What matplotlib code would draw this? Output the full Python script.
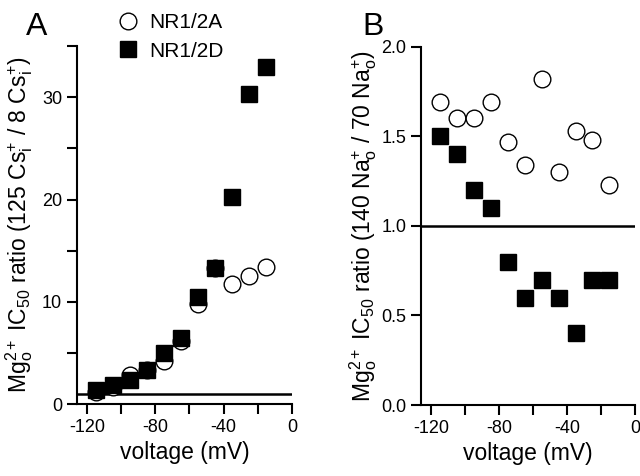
import matplotlib
matplotlib.use("Agg")
from matplotlib import pyplot as plt
from matplotlib.ticker import MultipleLocator, FormatStrFormatter

volt = [-115, -105, -95, -85, -75, -65, -55, -45, -35, -25, -15]

# panel A: Cs internal ratio
a_2a = [1.2, 1.7, 2.8, 3.3, 4.2, 6.2, 9.8, 13.3, 11.7, 12.5, 13.4]
a_2d = [1.4, 1.9, 2.4, 3.3, 5.0, 6.5, 10.5, 13.3, 20.3, 30.3, 33.0]

# panel B: Na external ratio
b_2a = [1.69, 1.60, 1.60, 1.69, 1.47, 1.34, 1.82, 1.30, 1.53, 1.48, 1.23]
b_2d = [1.5, 1.4, 1.2, 1.1, 0.8, 0.6, 0.7, 0.6, 0.4, 0.7, 0.7]

plt.rcParams["font.family"] = ["Liberation Sans", "DejaVu Sans"]
plt.rcParams["mathtext.fontset"] = "custom"
plt.rcParams["mathtext.rm"] = "Liberation Sans"
plt.rcParams["mathtext.it"] = "Liberation Sans:italic"
plt.rcParams["axes.unicode_minus"] = False


def style_axes(ax):
    for s in ["top", "right"]:
        ax.spines[s].set_visible(False)
    for s in ["left", "bottom"]:
        ax.spines[s].set_linewidth(1.5)
    ax.tick_params(which="both", direction="out", length=7, width=1.5, labelsize=13)
    ax.set_xlim(-126, 0)
    ax.xaxis.set_major_locator(MultipleLocator(40))
    ax.xaxis.set_minor_locator(MultipleLocator(20))
    ax.set_xlabel("voltage (mV)", fontsize=16.5)


def main():
    fig = plt.figure(figsize=(6.4, 4.76), dpi=100)
    axA = fig.add_axes([0.120, 0.151, 0.336, 0.752])
    axB = fig.add_axes([0.658, 0.149, 0.334, 0.753])

    circ = dict(ms=12, linestyle="none", marker="o", markerfacecolor="white",
                markeredgewidth=1.0, markeredgecolor="black", clip_on=False, zorder=2)
    sq = dict(ms=11, linestyle="none", marker="s", markerfacecolor="black",
              markeredgewidth=1.0, markeredgecolor="black", clip_on=False, zorder=3)

    axA.axhline(1, color="black", linewidth=1.8, zorder=1)
    axA.plot(volt, a_2a, label="NR1/2A", **circ)
    axA.plot(volt, a_2d, label="NR1/2D", **sq)
    style_axes(axA)
    axA.set_ylim(0, 35)
    axA.yaxis.set_major_locator(MultipleLocator(10))
    axA.yaxis.set_minor_locator(MultipleLocator(5))
    axA.set_ylabel(r"Mg$^{2+}_{\mathrm{o}}$ IC$_{50}$ ratio (125 Cs$^{+}_{\mathrm{i}}$ / 8 Cs$^{+}_{\mathrm{i}}$)",
                   fontsize=16.5, labelpad=5)
    axA.legend(loc="upper left", bbox_to_anchor=(0.152, 1.115), frameon=False, fontsize=15,
               handlelength=1.0, handletextpad=0.5, labelspacing=0.45, borderaxespad=0)

    axB.axhline(1.0, color="black", linewidth=1.8, zorder=1)
    axB.plot(volt, b_2a, **circ)
    axB.plot(volt, b_2d, **sq)
    style_axes(axB)
    axB.set_ylim(0, 2.0)
    axB.yaxis.set_major_locator(MultipleLocator(0.5))
    axB.yaxis.set_major_formatter(FormatStrFormatter("%.1f"))
    axB.set_ylabel(r"Mg$^{2+}_{\mathrm{o}}$ IC$_{50}$ ratio (140 Na$^{+}_{\mathrm{o}}$ / 70 Na$^{+}_{\mathrm{o}}$)",
                   fontsize=16.5, labelpad=2)

    fig.text(0.040, 0.975, "A", fontsize=23, va="top", ha="left")
    fig.text(0.566, 0.975, "B", fontsize=23, va="top", ha="left")

    fig.savefig("out.png", dpi=100)


if __name__ == "__main__":
    main()
